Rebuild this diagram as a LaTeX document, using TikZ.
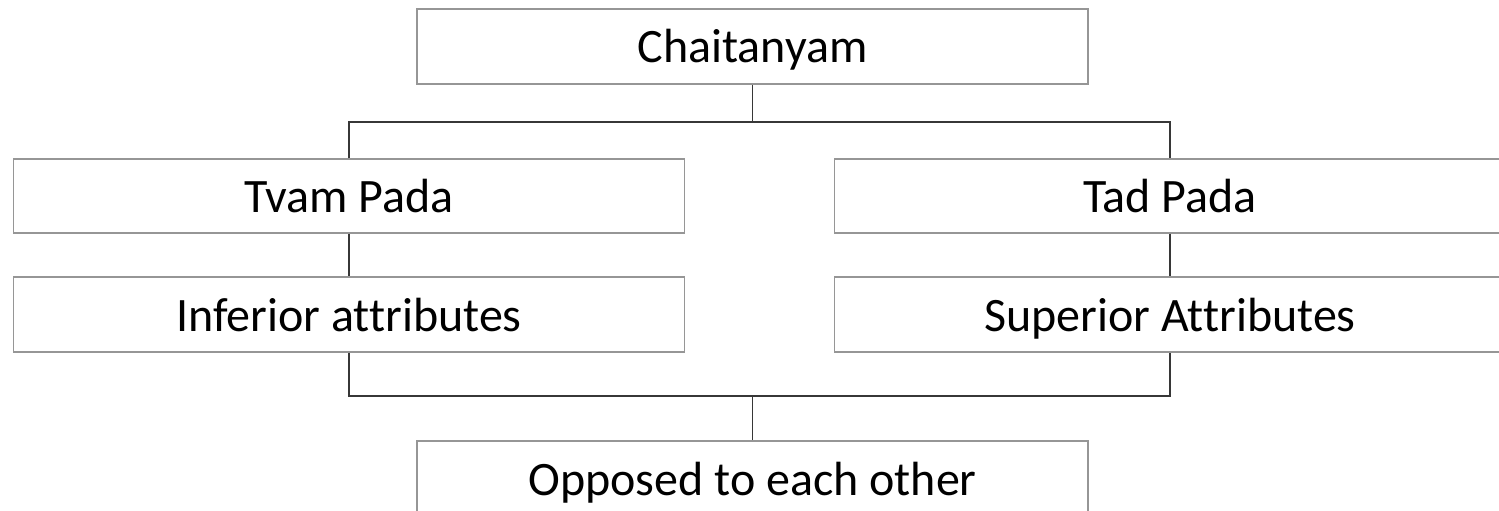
\documentclass[tikz,border=0pt]{standalone}
\usepackage{fontspec}
\setmainfont[Ligatures=NoCommon]{Carlito}
\usepackage{tikz}
\definecolor{boxgray}{RGB}{150, 150, 150}
\definecolor{linegray}{RGB}{55, 55, 55}

\begin{document}
\begin{tikzpicture}[x=1pt, y=-1pt,
    padabox/.style={draw=boxgray, line width=1.4pt, fill=white, inner sep=0pt,
        minimum width=671pt, minimum height=74pt, text height=33pt, text depth=0pt,
        font=\fontsize{48}{54}\selectfont},
    attrbox/.style={padabox, minimum height=75pt},
    link/.style={draw=linegray, line width=1.5pt}]
    \clip (0,0) rectangle (1499,511);
    \fill[white] (0,0) rectangle (1499,511);

    \node[padabox, minimum height=75pt] (chaitanyam) at (752.5,46.5) {Chaitanyam};
    \node[padabox] (tvam) at (349,196) {Tvam Pada};
    \node[padabox] (tad) at (1170,196) {Tad Pada};
    \node[attrbox] (inferior) at (349,314.5) {Inferior attributes};
    \node[attrbox] (superior) at (1170,314.5) {Superior Attributes};
    \node[padabox, minimum height=75pt] (opposed) at (752.5,478.5) {Opposed to each other};

    \coordinate (upperbar) at (752.5,122);
    \coordinate (lowerbar) at (752.5,396);

    \draw[link] (chaitanyam.south) -- (upperbar);
    \draw[link] (tvam.north) |- (upperbar) -| (tad.north);
    \draw[link] (tvam) -- (inferior);
    \draw[link] (tad) -- (superior);
    \draw[link] (inferior.south) |- (lowerbar) -| (superior.south);
    \draw[link] (lowerbar) -- (opposed.north);
\end{tikzpicture}
\end{document}
